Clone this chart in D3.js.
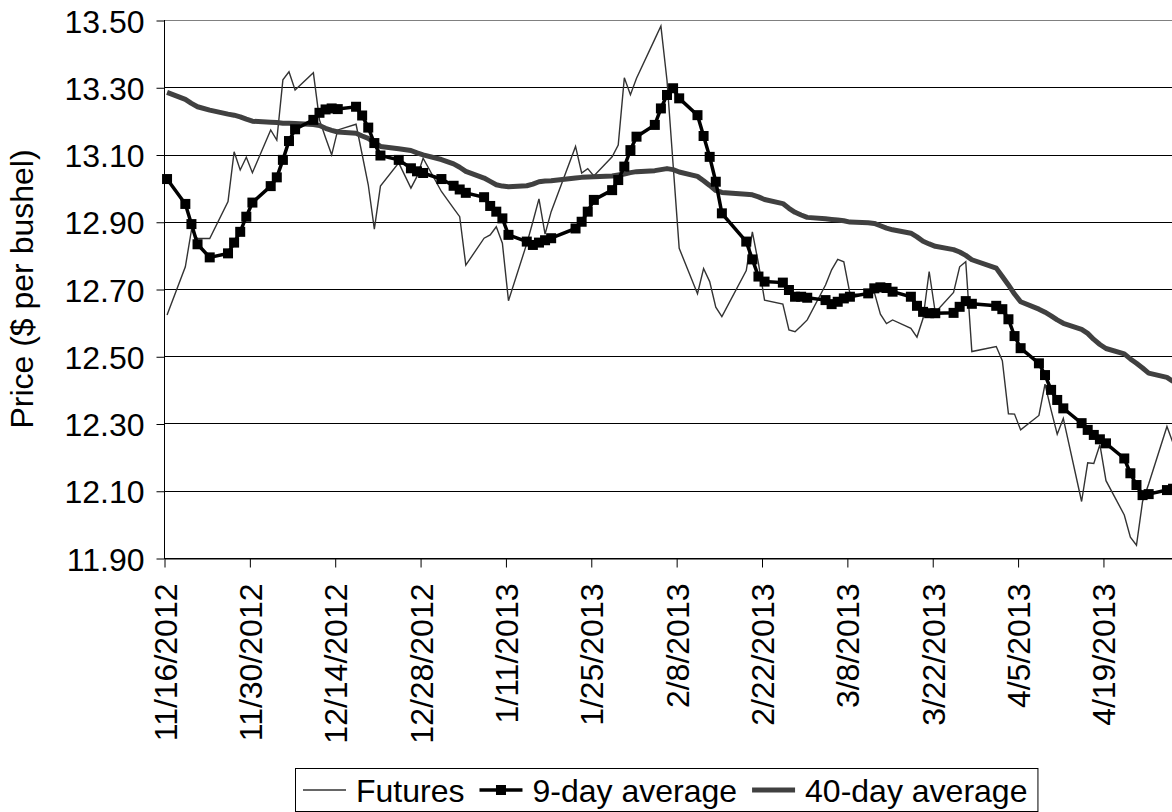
<!DOCTYPE html>
<html>
<head>
<meta charset="utf-8">
<script src="https://cdn.jsdelivr.net/npm/d3@7"></script>
<style>
  html, body { margin: 0; padding: 0; background: #fff; overflow: hidden; }
  svg { display: block; }
  text { font-family: "Liberation Sans", Arial, sans-serif; fill: #000; }
</style>
</head>
<body>
<svg id="chart" width="1172" height="812"></svg>
<script>
// ---- Data ----
const dates = [
  "2012-11-16","2012-11-19","2012-11-20","2012-11-21","2012-11-23","2012-11-26","2012-11-27","2012-11-28","2012-11-29","2012-11-30",
  "2012-12-03","2012-12-04","2012-12-05","2012-12-06","2012-12-07","2012-12-10","2012-12-11","2012-12-12","2012-12-13","2012-12-14",
  "2012-12-17","2012-12-18","2012-12-19","2012-12-20","2012-12-21","2012-12-24","2012-12-26","2012-12-27","2012-12-28","2012-12-31",
  "2013-01-02","2013-01-03","2013-01-04","2013-01-07","2013-01-08","2013-01-09","2013-01-10","2013-01-11","2013-01-14","2013-01-15",
  "2013-01-16","2013-01-17","2013-01-18","2013-01-22","2013-01-23","2013-01-24","2013-01-25","2013-01-28","2013-01-29","2013-01-30",
  "2013-01-31","2013-02-01","2013-02-04","2013-02-05","2013-02-06","2013-02-07","2013-02-08","2013-02-11","2013-02-12","2013-02-13",
  "2013-02-14","2013-02-15","2013-02-19","2013-02-20","2013-02-21","2013-02-22","2013-02-25","2013-02-26","2013-02-27","2013-02-28",
  "2013-03-01","2013-03-04","2013-03-05","2013-03-06","2013-03-07","2013-03-08","2013-03-11","2013-03-12","2013-03-13","2013-03-14",
  "2013-03-15","2013-03-18","2013-03-19","2013-03-20","2013-03-21","2013-03-22","2013-03-25","2013-03-26","2013-03-27","2013-03-28",
  "2013-04-01","2013-04-02","2013-04-03","2013-04-04","2013-04-05","2013-04-08","2013-04-09","2013-04-10","2013-04-11","2013-04-12",
  "2013-04-15","2013-04-16","2013-04-17","2013-04-18","2013-04-19","2013-04-22","2013-04-23","2013-04-24","2013-04-25","2013-04-26",
  "2013-04-29","2013-04-30"
];

const futures = [
  12.623, 12.766, 12.875, 12.85, 12.85, 12.96, 13.108, 13.054, 13.092, 13.046,
  13.173, 13.143, 13.322, 13.346, 13.292, 13.343, 13.203, 13.15, 13.099, 13.173,
  13.19, 13.10, 13.01, 12.878, 13.006, 13.075, 13.0, 13.035, 13.089, 12.99,
  12.94, 12.915, 12.771, 12.851, 12.861, 12.885, 12.836, 12.665, 12.835, 12.90,
  12.968, 12.863, 12.93, 13.124, 13.045, 13.058, 13.036, 13.093, 13.128, 13.328,
  13.278, 13.327, 13.443, 13.482, 13.32, 13.07, 12.821, 12.686, 12.761, 12.722,
  12.646, 12.618, 12.755, 12.870, 12.776, 12.667, 12.655, 12.578, 12.573, 12.59,
  12.608, 12.712, 12.757, 12.788, 12.781, 12.687, 12.68, 12.69, 12.625, 12.597,
  12.608, 12.583, 12.557, 12.613, 12.752, 12.63, 12.69, 12.766, 12.781, 12.514,
  12.529, 12.487, 12.329, 12.328, 12.281, 12.324, 12.417, 12.34, 12.268, 12.315,
  12.068, 12.183, 12.181, 12.237, 12.13, 12.028, 11.962, 11.938, 12.068, 12.12,
  12.291, 12.242
];

const avg9 = [
  13.027, 12.953, 12.893, 12.833, 12.794, 12.806, 12.838, 12.870, 12.915, 12.957,
  13.006, 13.032, 13.084, 13.140, 13.175, 13.203, 13.224, 13.234, 13.237, 13.235,
  13.242, 13.216, 13.180, 13.134, 13.097, 13.084, 13.059, 13.05, 13.045, 13.027,
  13.007, 12.996, 12.986, 12.973, 12.947, 12.930, 12.910, 12.861, 12.841, 12.831,
  12.838, 12.845, 12.851, 12.880, 12.90, 12.93, 12.965, 12.994, 13.024, 13.064,
  13.113, 13.153, 13.188, 13.237, 13.277, 13.297, 13.267, 13.217, 13.155, 13.093,
  13.019, 12.925, 12.841, 12.788, 12.737, 12.722, 12.719, 12.697, 12.677, 12.677,
  12.674, 12.667, 12.655, 12.662, 12.672, 12.677, 12.687, 12.702, 12.705, 12.703,
  12.692, 12.677, 12.650, 12.632, 12.628, 12.628, 12.629, 12.647, 12.664, 12.656,
  12.650, 12.640, 12.610, 12.560, 12.524, 12.479, 12.444, 12.400, 12.370, 12.345,
  12.301, 12.281, 12.266, 12.253, 12.241, 12.196, 12.152, 12.117, 12.087, 12.090,
  12.102, 12.106
];

const avg40 = [
  13.285, 13.264, 13.252, 13.242, 13.232, 13.22, 13.217, 13.212, 13.205, 13.199,
  13.196, 13.195, 13.193, 13.193, 13.192, 13.189, 13.186, 13.178, 13.172, 13.167,
  13.163, 13.155, 13.148, 13.136, 13.124, 13.117, 13.112, 13.105, 13.099, 13.085,
  13.072, 13.062, 13.05, 13.03, 13.02, 13.01, 13.006, 13.004, 13.007, 13.012,
  13.019, 13.021, 13.022, 13.03, 13.032, 13.033, 13.034, 13.036, 13.039, 13.042,
  13.046, 13.049, 13.052, 13.055, 13.058, 13.055, 13.048, 13.035, 13.022, 13.008,
  12.993, 12.987, 12.982, 12.98, 12.974, 12.966, 12.954, 12.94, 12.928, 12.92,
  12.913, 12.909, 12.907, 12.905, 12.903, 12.899, 12.897, 12.895, 12.888, 12.881,
  12.876, 12.866, 12.855, 12.842, 12.834, 12.827, 12.817, 12.81, 12.80, 12.787,
  12.762, 12.737, 12.712, 12.685, 12.662, 12.64, 12.631, 12.62, 12.608, 12.598,
  12.58, 12.568, 12.55, 12.535, 12.523, 12.507, 12.492, 12.479, 12.465, 12.45,
  12.437, 12.425
];

const yTicks = [11.9, 12.1, 12.3, 12.5, 12.7, 12.9, 13.1, 13.3, 13.5];
const xTickLabels = ["11/16/2012","11/30/2012","12/14/2012","12/28/2012","1/11/2013","1/25/2013",
                     "2/8/2013","2/22/2013","3/8/2013","3/22/2013","4/5/2013","4/19/2013"];
const seriesNames = ["Futures", "9-day average", "40-day average"];
const yTitle = "Price ($ per bushel)";

(function draw() {
  const W = 1172;
  const mLeft = 164, mTop = 20, mBottom = 558;
  const pxPerDay = 6.097;
  const parse = d3.utcParse("%Y-%m-%d");
  const parseTick = d3.utcParse("%m/%d/%Y");
  const dayStart = parse(dates[0]);
  const dayEnd = d3.utcDay.offset(dayStart, 166);

  const x = d3.scaleUtc().domain([dayStart, dayEnd]).range([mLeft, mLeft + 166 * pxPerDay]);
  const y = d3.scaleLinear().domain([11.9, 13.5]).range([mBottom, mTop]);

  const svg = d3.select("#chart");
  const FONT = 32;
  const FF = "Liberation Sans, Arial, sans-serif";

  // points sit in the middle of their day slot
  const pts = dates.map((d, i) => ({
    t: d3.utcHour.offset(parse(d), 12),
    f: futures[i], a9: avg9[i], a40: avg40[i]
  }));

  // gridlines
  svg.append("g").selectAll("line").data(yTicks).join("line")
    .attr("x1", mLeft).attr("x2", W)
    .attr("y1", d => Math.round(y(d)) + 0.5).attr("y2", d => Math.round(y(d)) + 0.5)
    .attr("stroke", d => d === 13.5 ? "#808080" : "#000")
    .attr("stroke-width", 1);

  // Y axis
  const yAxis = d3.axisLeft(y).tickValues(yTicks).tickFormat(d3.format(".2f")).tickSize(8).tickPadding(12);
  const gy = svg.append("g").attr("transform", `translate(${mLeft + 0.5},0.5)`).call(yAxis);
  gy.select(".domain").remove();
  gy.selectAll("line").attr("stroke", "#000");
  gy.selectAll("text").attr("font-size", FONT).attr("font-family", FF).attr("dy", "0.36em");
  svg.append("line").attr("x1", mLeft + 0.5).attr("x2", mLeft + 0.5).attr("y1", mTop).attr("y2", mBottom + 1).attr("stroke", "#000");

  // X axis
  const tickDates = xTickLabels.map(s => parseTick(s));
  const xAxis = d3.axisBottom(x).tickValues(tickDates).tickFormat(d3.utcFormat("%-m/%-d/%Y")).tickSize(9).tickSizeOuter(0);
  const gx = svg.append("g").attr("transform", `translate(0.5,${mBottom + 0.5})`).call(xAxis);
  gx.select(".domain").attr("stroke", "#000");
  gx.selectAll("line").attr("stroke", "#000");
  gx.selectAll("text")
    .attr("font-size", FONT).attr("font-family", FF)
    .attr("transform", "rotate(-90)")
    .attr("text-anchor", "end")
    .attr("x", -25).attr("y", 0).attr("dy", "0.36em");

  // Y title
  svg.append("text")
    .attr("transform", `translate(33,${(mTop + mBottom) / 2}) rotate(-90)`)
    .attr("text-anchor", "middle")
    .attr("font-size", FONT)
    .text(yTitle);

  // series
  const plot = svg.append("g");
  const lineF = d3.line().x(d => x(d.t)).y(d => y(d.f));
  const line9 = d3.line().x(d => x(d.t)).y(d => y(d.a9));
  const line40 = d3.line().x(d => x(d.t)).y(d => y(d.a40));

  plot.append("path").datum(pts).attr("d", lineF)
    .attr("fill", "none").attr("stroke", "#333").attr("stroke-width", 1.4).attr("stroke-linejoin", "miter");
  plot.append("path").datum(pts).attr("d", line40)
    .attr("fill", "none").attr("stroke", "#404040").attr("stroke-width", 5).attr("stroke-linejoin", "round");
  plot.append("path").datum(pts).attr("d", line9)
    .attr("fill", "none").attr("stroke", "#000").attr("stroke-width", 3.5);
  const MS = 10;
  plot.selectAll("rect.m").data(pts).join("rect")
    .attr("class", "m")
    .attr("x", d => x(d.t) - MS / 2).attr("y", d => y(d.a9) - MS / 2)
    .attr("width", MS).attr("height", MS).attr("fill", "#000");

  // legend
  const lg = svg.append("g");
  const lgX = 295, lgY = 768, lgH = 43;
  const lgCy = lgY + 22;
  const items = [];
  let cx = lgX + 8;
  const tmp = svg.append("text").attr("font-size", FONT);
  seriesNames.forEach((name, i) => {
    tmp.text(name);
    const tw = tmp.node().getComputedTextLength();
    items.push({ name, i, sx: cx, tx: cx + 53, tw });
    cx = cx + 53 + tw + 15;
  });
  tmp.remove();
  const lgW = cx - lgX - 5;
  lg.append("rect").attr("x", lgX + 0.5).attr("y", lgY + 0.5).attr("width", lgW).attr("height", lgH)
    .attr("fill", "#fff").attr("stroke", "#000");
  items.forEach(it => {
    if (it.i === 0) {
      lg.append("line").attr("x1", it.sx).attr("x2", it.sx + 43).attr("y1", lgCy).attr("y2", lgCy)
        .attr("stroke", "#333").attr("stroke-width", 1.4);
    } else if (it.i === 1) {
      lg.append("line").attr("x1", it.sx).attr("x2", it.sx + 43).attr("y1", lgCy).attr("y2", lgCy)
        .attr("stroke", "#000").attr("stroke-width", 3.5);
      lg.append("rect").attr("x", it.sx + 21.5 - MS / 2).attr("y", lgCy - MS / 2).attr("width", MS).attr("height", MS).attr("fill", "#000");
    } else {
      lg.append("line").attr("x1", it.sx).attr("x2", it.sx + 43).attr("y1", lgCy).attr("y2", lgCy)
        .attr("stroke", "#404040").attr("stroke-width", 5);
    }
    lg.append("text").attr("x", it.tx).attr("y", lgCy).attr("dy", "0.36em")
      .attr("font-size", FONT).text(it.name);
  });
})();
</script>
</body>
</html>
